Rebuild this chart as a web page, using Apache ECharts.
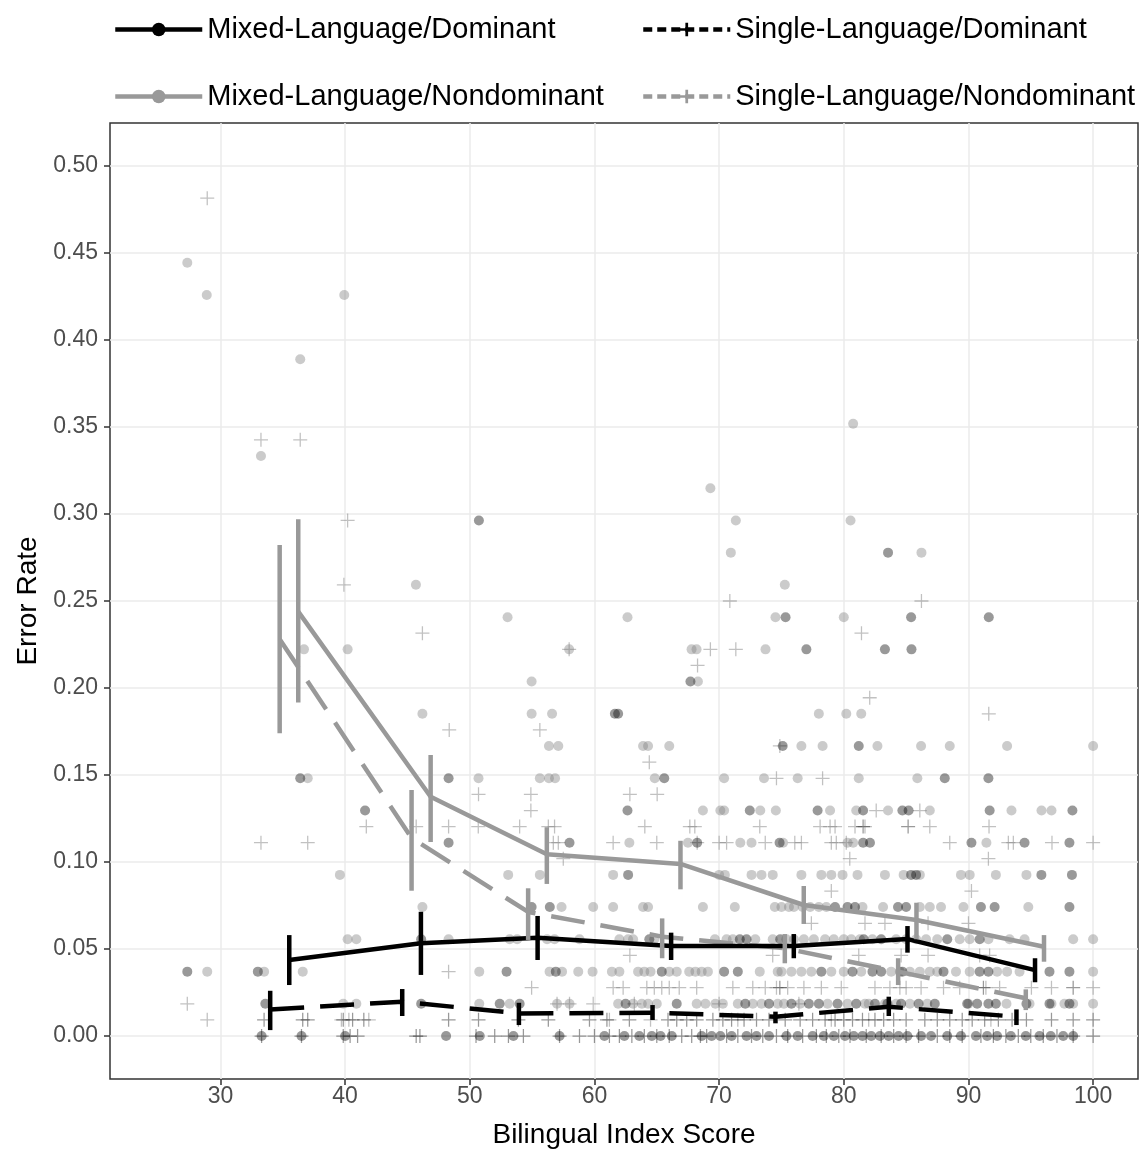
<!DOCTYPE html>
<html>
<head>
<meta charset="utf-8">
<title>Error Rate by Bilingual Index Score</title>
<script src="https://cdn.jsdelivr.net/npm/echarts@6/dist/echarts.min.js"></script>
<style>
  html, body { margin: 0; padding: 0; background: #fff; }
  #chart { width: 1142px; height: 1150px; }
</style>
</head>
<body>
<div id="chart"></div>
<script>
var xTicks = [30, 40, 50, 60, 70, 80, 90, 100]
var yTicks = [0, 0.05, 0.1, 0.15, 0.2, 0.25, 0.3, 0.35, 0.4, 0.45, 0.5]

// group means: [score, error rate]
var mixDomMean = [[35.52, 0.0437], [46.08, 0.0533], [55.44, 0.0565], [66.15, 0.0517], [75.99, 0.0517], [85.11, 0.0557], [95.34, 0.0379]]
var sinDomMean = [[33.99, 0.0153], [44.58, 0.0197], [53.94, 0.013], [64.66, 0.0134], [74.52, 0.0111], [83.61, 0.0168], [93.85, 0.0111]]
var mixNonMean = [[36.24, 0.2439], [46.86, 0.1375], [56.18, 0.1044], [66.9, 0.0989], [76.79, 0.0753], [85.83, 0.0667], [96.06, 0.0513]]
var sinNonMean = [[34.75, 0.228], [45.33, 0.1138], [54.68, 0.0713], [65.43, 0.0571], [75.27, 0.0504], [84.36, 0.037], [94.6, 0.0217]]

// error bars: [score, low, high]
var mixDomErr = [[35.52, 0.0293, 0.058], [46.08, 0.0351, 0.0714], [55.44, 0.0437, 0.069], [66.15, 0.0437, 0.0594], [75.99, 0.0447, 0.0586], [85.11, 0.0479, 0.0632], [95.34, 0.0309, 0.0447]]
var sinDomErr = [[33.99, 0.0034, 0.026], [44.58, 0.0115, 0.027], [53.94, 0.0063, 0.0191], [64.66, 0.0092, 0.0178], [74.52, 0.0073, 0.014], [83.61, 0.0115, 0.0226], [93.85, 0.0063, 0.0153]]
var mixNonErr = [[36.24, 0.1916, 0.297], [46.86, 0.1115, 0.1615], [56.18, 0.0874, 0.12], [66.9, 0.0843, 0.1122], [76.79, 0.0644, 0.0862], [85.83, 0.0556, 0.0766], [96.06, 0.0427, 0.058]]
var sinNonErr = [[34.75, 0.174, 0.2822], [45.33, 0.0835, 0.1414], [54.68, 0.0552, 0.0849], [65.43, 0.0447, 0.0676], [75.27, 0.0418, 0.0586], [84.36, 0.0293, 0.0447], [94.6, 0.0149, 0.0268]]

// individual participants, one row per error rate: [error rate, [scores]]
var mixDomRows = [
  [0, [33.3, 36.5, 40.0, 48.1, 50.8, 53.5, 57.2, 60.8, 62.4, 63.6, 64.6, 65.3, 66.2, 68.6, 69.4, 70.1, 71.0, 72.2, 73.0, 74.0, 75.4, 76.3, 77.5, 78.4, 79.2, 80.1, 80.8, 81.5, 82.2, 82.9, 83.6, 84.4, 85.1, 86.2, 87.0, 88.3, 89.4, 90.6, 91.5, 92.3, 93.4, 94.6, 95.7, 96.6, 97.6, 98.4]],
  [0.0185, [33.6, 46.1, 52.4, 54.0, 62.5, 66.6, 72.1, 74.0, 75.8, 77.2, 78.0, 79.5, 81.0, 82.5, 83.5, 84.6, 86.0, 87.3, 89.9, 90.7, 91.6, 92.2, 94.65, 96.5, 98.1]],
  [0.037, [27.34, 33.0, 52.95, 56.9, 65.4, 70.4, 71.5, 78.2, 80.7, 82.3, 83.0, 84.7, 88.0, 90.9, 91.6, 96.5, 98.1]],
  [0.0556, [46.1, 64.4, 71.66, 72.2, 74.9, 81.6, 83.0, 88.3, 90.9]],
  [0.0741, [54.96, 56.42, 79.3, 80.3, 80.9, 84.35, 85.0, 91.0, 92.1, 98.1]],
  [0.0926, [62.7, 85.4, 85.8, 95.85, 98.3]],
  [0.1111, [48.3, 58.0, 68.24, 74.85, 81.55, 82.1, 90.24, 94.5, 98.1]],
  [0.1296, [41.6, 62.65, 72.46, 77.9, 81.55, 84.7, 85.2, 91.7, 98.34]],
  [0.1481, [36.4, 48.3, 65.6, 88.1, 91.6]],
  [0.1667, [75.1, 81.2]],
  [0.1852, [61.64, 61.9]],
  [0.2037, [67.7]],
  [0.2222, [77.0, 83.3, 85.43]],
  [0.2407, [75.33, 85.4, 91.63]],
  [0.2778, [83.55]],
  [0.2963, [50.73]]
]
var mixNonRows = [
  [0.0185, [39.85, 40.9, 50.76, 53.2, 57.0, 58.0, 61.9, 63.1, 63.8, 64.3, 65.0, 68.2, 68.9, 69.7, 70.3, 71.5, 72.7, 73.4, 74.7, 75.2, 76.5, 78.7, 80.3, 81.7, 82.0, 83.3, 84.2, 85.3, 86.7, 90.0, 93.05, 94.9, 96.66, 97.7, 98.4, 100]],
  [0.037, [28.94, 33.5, 36.6, 50.76, 56.4, 57.4, 58.7, 59.85, 61.4, 62.0, 63.5, 64.0, 64.5, 66.0, 66.6, 67.6, 68.1, 68.6, 69.1, 73.26, 74.7, 75.0, 75.8, 76.6, 77.4, 79.0, 80.0, 81.4, 83.8, 84.5, 85.3, 86.1, 86.9, 87.5, 89.0, 90.1, 92.3, 93.1, 94.1, 100]],
  [0.0556, [40.2, 40.9, 48.3, 53.2, 53.8, 56.2, 56.8, 58.8, 62.0, 62.7, 63.1, 64.8, 69.66, 70.6, 71.1, 72.9, 74.3, 75.4, 76.0, 76.8, 77.6, 78.5, 79.2, 80.0, 80.6, 81.3, 82.3, 84.2, 85.0, 85.8, 86.6, 87.5, 89.3, 90.1, 91.6, 93.3, 94.5, 98.4, 100]],
  [0.0741, [46.2, 57.36, 59.9, 61.5, 63.9, 64.3, 68.7, 71.26, 74.47, 75.0, 75.6, 76.0, 76.7, 77.3, 78.0, 78.6, 81.5, 83.15, 86.1, 86.9, 87.8, 89.6, 94.8]],
  [0.0926, [39.58, 53.08, 55.62, 61.5, 70.0, 70.46, 72.6, 73.4, 74.3, 76.6, 78.2, 79.0, 79.9, 81.1, 83.3, 84.8, 86.1, 89.4, 90.1, 92.2, 94.65]],
  [0.1111, [62.8, 67.5, 71.7, 72.6, 75.13, 80.3, 80.75, 91.44]],
  [0.1296, [68.7, 70.1, 70.4, 73.3, 74.55, 78.9, 81.0, 83.55, 86.9, 93.45, 95.86, 96.66]],
  [0.1481, [37.0, 50.7, 55.62, 56.35, 56.84, 64.84, 70.4, 73.6, 76.3, 81.2, 85.9]],
  [0.1667, [56.35, 57.1, 63.9, 64.3, 66.0, 76.6, 78.3, 82.7, 86.2, 88.5, 93.1, 100]],
  [0.1852, [46.2, 54.96, 56.6, 78.0, 80.2, 81.4]],
  [0.2037, [54.96, 68.3]],
  [0.2222, [36.7, 40.2, 57.97, 67.79, 68.19, 73.72]],
  [0.2407, [53.03, 62.65, 74.52, 80.0]],
  [0.2593, [45.68, 75.27]],
  [0.2778, [70.94, 86.23]],
  [0.2963, [71.34, 80.54]],
  [0.3148, [69.3]],
  [0.3333, [33.25]],
  [0.3519, [80.75]],
  [0.3889, [36.4]],
  [0.4259, [28.9, 39.93]],
  [0.4444, [27.34]]
]
var sinDomRows = [
  [0, [33.3, 36.5, 39.85, 40.4, 41.0, 45.7, 46.0, 50.5, 52.0, 53.1, 54.3, 57.2, 58.8, 60.0, 61.2, 62.0, 63.0, 64.0, 65.0, 66.0, 67.0, 67.8, 68.5, 69.0, 70.6, 71.5, 72.6, 73.5, 74.6, 75.5, 76.7, 77.8, 78.6, 79.6, 80.5, 81.8, 83.0, 84.0, 85.0, 86.0, 87.5, 88.5, 89.5, 91.0, 92.0, 93.0, 94.0, 95.0, 96.0, 97.1, 98.4, 100]],
  [0.0093, [33.5, 36.6, 37.0, 39.85, 40.6, 41.5, 48.3, 50.7, 53.9, 56.3, 59.6, 61.0, 62.8, 65.9, 66.6, 67.4, 68.2, 69.5, 70.3, 71.0, 72.0, 73.0, 74.0, 75.3, 76.5, 77.5, 78.5, 79.3, 80.0, 80.7, 81.5, 82.5, 83.2, 84.0, 85.0, 86.5, 87.5, 88.5, 89.5, 90.3, 91.3, 92.4, 93.5, 94.65, 96.66, 98.4, 100]],
  [0.0278, [74.87, 91.2, 98.4]],
  [0.1204, [81.55, 85.16]]
]
var sinNonRows = [
  [0.0093, [28.94, 39.7, 40.3, 41.9, 61.2, 64.5, 71.5, 79.0, 82.0, 91.8]],
  [0.0185, [27.34, 57.0, 58.0, 59.9, 63.2, 70.0, 76.4]],
  [0.0278, [54.96, 61.5, 62.3, 64.2, 64.8, 65.4, 66.0, 66.8, 68.2, 71.1, 72.7, 73.7, 74.6, 75.5, 76.8, 78.2, 79.8, 82.5, 83.7, 84.5, 85.0, 86.2, 88.0, 89.3, 91.4, 92.5, 95.05, 96.66, 100]],
  [0.037, [48.3]],
  [0.0463, [62.84, 74.3, 81.2, 84.6, 86.76, 90.9, 91.7]],
  [0.0648, [77.4, 81.7, 83.3, 86.76, 90.0]],
  [0.0833, [79.0, 90.24]],
  [0.1019, [57.5, 80.48, 91.6]],
  [0.1111, [33.25, 37.0, 56.7, 57.1, 61.5, 65.0, 68.24, 70.0, 70.6, 73.7, 76.07, 76.6, 79.0, 79.4, 80.2, 88.5, 93.2, 93.6, 96.7, 100]],
  [0.1204, [41.7, 45.7, 48.3, 50.68, 54.0, 56.3, 56.8, 64.04, 67.65, 68.05, 73.26, 78.1, 78.9, 79.3, 80.9, 81.7, 86.9, 91.65]],
  [0.1296, [54.9, 82.6, 86.1]],
  [0.1389, [50.7, 54.9, 62.84, 65.03]],
  [0.1481, [74.6, 78.3]],
  [0.1574, [64.4]],
  [0.1667, [74.87]],
  [0.1759, [48.35, 55.62]],
  [0.1852, [91.63]],
  [0.1944, [82.08]],
  [0.213, [68.27]],
  [0.2222, [57.97, 69.3, 71.34]],
  [0.2315, [46.2, 81.42]],
  [0.25, [70.86, 86.23]],
  [0.2593, [39.9]],
  [0.2963, [40.2]],
  [0.3426, [33.25, 36.4]],
  [0.4815, [28.94]]
]

var FONT = "'Liberation Sans', Arial, sans-serif"
var CROSS_THIN = 'path://M-0.09,-1H0.09V-0.09H1V0.09H0.09V1H-0.09V0.09H-1V-0.09H-0.09Z'
var CROSS_BOLD = 'path://M-0.2,-1H0.2V-0.2H1V0.2H0.2V1H-0.2V0.2H-1V-0.2H-0.2Z'
var DASH = [34, 16]

function toPoints (rows) {
  var pts = []
  rows.forEach(function (r) {
    r[1].forEach(function (x) { pts.push([x, r[0]]) })
  })
  return pts
}

function pointSeries (name, rows, symbol, size, color) {
  return {
    name: name,
    type: 'scatter',
    data: toPoints(rows),
    symbol: symbol,
    symbolSize: size,
    itemStyle: { color: color },
    silent: true,
    z: 1
  }
}

function meanSeries (name, data, color, dashed, symbol) {
  return {
    name: name,
    type: 'line',
    data: data,
    showSymbol: false,
    symbol: symbol,
    color: color,
    lineStyle: { color: color, width: 4.5, type: dashed ? DASH : 'solid' },
    itemStyle: { color: color },
    silent: true,
    z: 3
  }
}

function errSeries (data, color) {
  return {
    type: 'custom',
    data: data,
    silent: true,
    z: 4,
    encode: { x: 0, y: [1, 2] },
    renderItem: function (params, api) {
      var lo = api.coord([api.value(0), api.value(1)])
      var hi = api.coord([api.value(0), api.value(2)])
      return {
        type: 'line',
        shape: { x1: lo[0], y1: lo[1], x2: hi[0], y2: hi[1] },
        style: { stroke: color, lineWidth: 4.5 }
      }
    }
  }
}

function legendAt (name, left, top, dashed) {
  return {
    data: [name],
    left: left,
    top: top,
    itemWidth: 87,
    itemHeight: 17,
    selectedMode: false,
    lineStyle: { width: 4.5, type: dashed ? [9, 5] : 'solid' },
    textStyle: { fontSize: 29, color: '#000', fontFamily: FONT }
  }
}

var myChart = echarts.init(document.getElementById('chart'))
myChart.setOption({
  animation: false,
  backgroundColor: '#fff',
  legend: [
    legendAt('Mixed-Language/Dominant', 108, 10, false),
    legendAt('Single-Language/Dominant', 636, 10, true),
    legendAt('Mixed-Language/Nondominant', 108, 77, false),
    legendAt('Single-Language/Nondominant', 636, 77, true)
  ],
  grid: {
    left: 110,
    right: 4,
    top: 123,
    bottom: 71,
    containLabel: false,
    outerBoundsMode: 'none',
    show: true,
    borderColor: '#333',
    borderWidth: 1.5,
    backgroundColor: 'transparent'
  },
  xAxis: {
    type: 'value',
    min: 21.14,
    max: 103.6,
    splitNumber: 8,
    name: 'Bilingual Index Score',
    nameLocation: 'middle',
    nameGap: 42,
    nameTextStyle: { fontSize: 28, color: '#000', fontFamily: FONT },
    axisLine: { show: false, onZero: false },
    axisTick: { show: true, length: 6, customValues: xTicks, lineStyle: { color: '#333', width: 1.5 } },
    axisLabel: { customValues: xTicks, fontSize: 23, color: '#4d4d4d', margin: 6, fontFamily: FONT },
    splitLine: { show: true, lineStyle: { color: '#ebebeb', width: 1.5 } }
  },
  yAxis: {
    type: 'value',
    min: -0.0247,
    max: 0.5247,
    splitNumber: 11,
    name: 'Error Rate',
    nameLocation: 'middle',
    nameGap: 68,
    nameTextStyle: { fontSize: 28, color: '#000', fontFamily: FONT },
    axisLine: { show: false, onZero: false },
    axisTick: { show: true, length: 6, customValues: yTicks, lineStyle: { color: '#333', width: 1.5 } },
    axisLabel: {
      customValues: yTicks,
      fontSize: 23,
      color: '#4d4d4d',
      margin: 12,
      fontFamily: FONT,
      formatter: function (v) { return v.toFixed(2) }
    },
    splitLine: { show: true, lineStyle: { color: '#ebebeb', width: 1.5 } }
  },
  series: [
    pointSeries('mixNonPts', mixNonRows, 'circle', 10, 'rgba(125,125,125,0.5)'),
    pointSeries('sinNonPts', sinNonRows, CROSS_THIN, 14, 'rgba(125,125,125,0.6)'),
    pointSeries('mixDomPts', mixDomRows, 'circle', 10, 'rgba(0,0,0,0.5)'),
    pointSeries('sinDomPts', sinDomRows, CROSS_THIN, 14, 'rgba(0,0,0,0.5)'),
    meanSeries('Mixed-Language/Nondominant', mixNonMean, '#999999', false, 'circle'),
    meanSeries('Single-Language/Nondominant', sinNonMean, '#999999', true, CROSS_BOLD),
    meanSeries('Mixed-Language/Dominant', mixDomMean, '#000000', false, 'circle'),
    meanSeries('Single-Language/Dominant', sinDomMean, '#000000', true, CROSS_BOLD),
    errSeries(mixNonErr, '#999999'),
    errSeries(sinNonErr, '#999999'),
    errSeries(mixDomErr, '#000000'),
    errSeries(sinDomErr, '#000000')
  ]
})
window.addEventListener('resize', function () {
  myChart.resize()
})
</script>
</body>
</html>
